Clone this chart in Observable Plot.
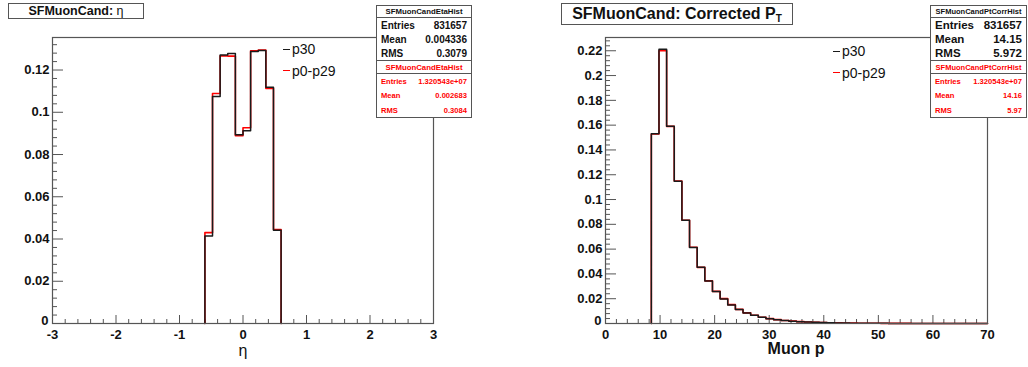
<!DOCTYPE html>
<html>
<head>
<meta charset="utf-8">
<script src="https://cdn.jsdelivr.net/npm/d3@7"></script>
<script src="https://cdn.jsdelivr.net/npm/@observablehq/plot@0.6"></script>
<style>
  html, body { margin: 0; padding: 0; background: #fff; }
  #root { position: relative; width: 1028px; height: 367px; overflow: hidden; font-family: "Liberation Sans", Arial, Helvetica, sans-serif; }
  .panel { position: absolute; top: 0; width: 514px; height: 367px; }
  .box { position: absolute; background: #fff; border: 1px solid #555; box-sizing: border-box; }
  .title { text-align: center; font-weight: bold; color: #111; white-space: nowrap; }
  .row { position: absolute; left: 0; right: 0; display: flex; justify-content: space-between; align-items: center; padding: 0 4px; box-sizing: border-box; font-weight: bold; white-space: nowrap; }
  .hdr { position: absolute; left: 0; right: 0; text-align: center; font-weight: bold; white-space: nowrap; }
  .sep { position: absolute; left: 0; right: 0; height: 0; border-top: 1px solid #555; }
  .leg { position: absolute; font-size: 14px; color: #111; white-space: nowrap; }
  .leg .dash { display: inline-block; width: 7px; height: 0; border-top: 1.5px solid; vertical-align: middle; margin-right: 2px; position: relative; top: -1px; }
  .axt { position: absolute; color: #111; white-space: nowrap; transform: translateX(-50%); }
</style>
</head>
<body>
<div id="root"></div>
<script>
// ---------------- data ----------------
const etaEdges = [-0.6, -0.48, -0.36, -0.24, -0.12, 0, 0.12, 0.24, 0.36, 0.48, 0.6];
const etaP30   = [0.0414, 0.1075, 0.1271, 0.1278, 0.0894, 0.0912, 0.1288, 0.1292, 0.1118, 0.0441];
const etaP0P29 = [0.0430, 0.1089, 0.1267, 0.1266, 0.0889, 0.0927, 0.1291, 0.1294, 0.1113, 0.0445];

const ptEdges = [8.4, 9.8, 11.2, 12.6, 14, 15.4, 16.8, 18.2, 19.6, 21, 22.4, 23.8, 25.2, 26.6, 28, 29.4,
  30.8, 32.2, 33.6, 35, 36.4, 37.8, 39.2, 40.6, 42, 43.4, 44.8, 46.2, 47.6, 49, 50.4, 51.8, 53.2, 54.6,
  56, 57.4, 58.8, 60.2, 61.6, 63, 64.4, 65.8, 67.2, 68.6, 70];
const ptP30 = [0.1530, 0.2212, 0.1591, 0.1148, 0.0832, 0.0614, 0.0453, 0.0343, 0.0258, 0.0198, 0.0150,
  0.0113, 0.0085, 0.0067, 0.0050, 0.0039, 0.0031, 0.0024, 0.0019, 0.0015, 0.0012, 0.0010, 0.0008,
  0.0006, 0.0005, 0.0004, 0.0003, 0.00025, 0.0002, 0.00016, 0.00013, 0.0001, 0.00008, 0.00007,
  0.00006, 0.00005, 0.00004, 0.00003, 0.00003, 0.00002, 0.00002, 0.00002, 0.00001, 0.00001];
const ptP0P29 = [0.1528, 0.2200, 0.1590, 0.1149, 0.0833, 0.0615, 0.0453, 0.0344, 0.0259, 0.0201, 0.0152,
  0.0114, 0.0086, 0.0067, 0.0050, 0.0039, 0.0031, 0.0024, 0.0019, 0.0015, 0.0012, 0.0010, 0.0008,
  0.0006, 0.0005, 0.0004, 0.0003, 0.00025, 0.0002, 0.00016, 0.00013, 0.0001, 0.00008, 0.00007,
  0.00006, 0.00005, 0.00004, 0.00003, 0.00003, 0.00002, 0.00002, 0.00002, 0.00001, 0.00001];

const etaXTicks = [-3, -2, -1, 0, 1, 2, 3];
const etaYTicks = [0, 0.02, 0.04, 0.06, 0.08, 0.1, 0.12];
const ptXTicks = [0, 10, 20, 30, 40, 50, 60, 70];
const ptYTicks = [0, 0.02, 0.04, 0.06, 0.08, 0.1, 0.12, 0.14, 0.16, 0.18, 0.2, 0.22];

const seriesNames = ["p30", "p0-p29"];
const seriesColors = ["#1a1a1a", "#ff0000"];

const etaStats = { name: "SFMuonCandEtaHist", rows: [["Entries", "831657"], ["Mean", "0.004336"], ["RMS", "0.3079"]],
  red: [["Entries", "1.320543e+07"], ["Mean", "0.002683"], ["RMS", "0.3084"]] };
const ptStats = { name: "SFMuonCandPtCorrHist", rows: [["Entries", "831657"], ["Mean", "14.15"], ["RMS", "5.972"]],
  red: [["Entries", "1.320543e+07"], ["Mean", "14.16"], ["RMS", "5.97"]] };

// ---------------- helpers ----------------
function histPoints(edges, vals) {
  const pts = [{x: edges[0], y: 0}];
  vals.forEach((v, i) => pts.push({x: edges[i], y: v}));
  pts.push({x: edges[edges.length - 1], y: vals[vals.length - 1]});
  pts.push({x: edges[edges.length - 1], y: 0});
  return pts;
}
const fmt = d => String(+d.toFixed(3));

function makePanel(cfg) {
  const W = 514, H = 367;
  const fh = H - cfg.mt - cfg.mb, fw = W - cfg.ml - cfg.mr;
  const [x0, x1] = cfg.xDomain;
  const xMinor = d3.range(x0, x1 + 1e-9, cfg.xMinorStep).filter(v => !cfg.xTicks.some(t => Math.abs(t - v) < 1e-9));
  const yMinor = d3.range(0, cfg.yDomain[1], cfg.yMinorStep).filter(v => !cfg.yTicks.some(t => Math.abs(t - v) < 1e-9));
  return Plot.plot({
    width: W, height: H,
    marginLeft: cfg.ml, marginRight: cfg.mr, marginTop: cfg.mt, marginBottom: cfg.mb,
    x: {domain: cfg.xDomain},
    y: {domain: cfg.yDomain},
    style: {fontFamily: "Liberation Sans, Arial, sans-serif", fontSize: "13px", fontWeight: "bold", color: "#111", background: "transparent", overflow: "visible"},
    marks: [
      Plot.tickX(xMinor, {x: d => d, stroke: "#555", insetTop: fh - 4}),
      Plot.tickX(cfg.xTicks, {x: d => d, stroke: "#555", insetTop: fh - 8}),
      Plot.tickY(yMinor, {y: d => d, stroke: "#555", insetRight: fw - 5}),
      Plot.tickY(cfg.yTicks, {y: d => d, stroke: "#555", insetRight: fw - 11}),
      Plot.line(histPoints(cfg.edges, cfg.red), {x: "x", y: "y", curve: "step-after", stroke: seriesColors[1], strokeWidth: 1.6}),
      Plot.line(histPoints(cfg.edges, cfg.black), {x: "x", y: "y", curve: "step-after", stroke: seriesColors[0], strokeWidth: 1.5}),
      Plot.frame({stroke: "#555", strokeWidth: 1.2}),
      Plot.axisX(cfg.xTicks, {tickSize: 0, tickPadding: 6, tickFormat: d => String(d), label: null, fill: "#111"}),
      Plot.axisY(cfg.yTicks.filter(d => d !== 0), {tickSize: 0, tickPadding: 3, tickFormat: fmt, label: null, fill: "#111"}),
      Plot.axisY([0], {tickSize: 0, tickPadding: 4, dy: -3, tickFormat: fmt, label: null, fill: "#111"})
    ]
  });
}

function statsBox(parent, s, left, width, bigFont, hdrFont, redFont) {
  const b = document.createElement("div");
  b.className = "box";
  Object.assign(b.style, {left: left + "px", top: "5px", width: width + "px", height: "113px"});
  let html = `<div class="hdr" style="top:0;height:11px;line-height:11px;font-size:${hdrFont}px;color:#111">${s.name}</div>`;
  html += `<div class="sep" style="top:11px"></div>`;
  s.rows.forEach((r, i) => {
    html += `<div class="row" style="top:${12 + i * 14}px;height:14px;font-size:${bigFont}px;color:#111"><span>${r[0]}</span><span>${r[1]}</span></div>`;
  });
  html += `<div class="sep" style="top:54px"></div>`;
  html += `<div class="hdr" style="top:55px;height:13px;line-height:13px;font-size:${hdrFont}px;color:#f00">${s.name}</div>`;
  html += `<div class="sep" style="top:67px"></div>`;
  s.red.forEach((r, i) => {
    html += `<div class="row" style="top:${68 + i * 14.6}px;height:14.6px;font-size:${redFont}px;color:#f00"><span>${r[0]}</span><span>${r[1]}</span></div>`;
  });
  b.innerHTML = html;
  parent.appendChild(b);
}

function legend(parent, left, top) {
  seriesNames.forEach((n, i) => {
    const d = document.createElement("div");
    d.className = "leg";
    Object.assign(d.style, {left: left + "px", top: (top + i * 21.5) + "px"});
    d.innerHTML = `<span class="dash" style="border-color:${seriesColors[i]}"></span>${n}`;
    parent.appendChild(d);
  });
}

// ---------------- build ----------------
const root = document.getElementById("root");

const left = document.createElement("div");
left.className = "panel"; left.style.left = "0px";
left.appendChild(makePanel({ml: 52, mr: 81, mt: 37, mb: 44, xDomain: [-3, 3], yDomain: [0, 0.1354],
  xTicks: etaXTicks, yTicks: etaYTicks, xMinorStep: 0.2, yMinorStep: 0.004,
  edges: etaEdges, black: etaP30, red: etaP0P29}));
root.appendChild(left);

const right = document.createElement("div");
right.className = "panel"; right.style.left = "514px";
right.appendChild(makePanel({ml: 91, mr: 41, mt: 37, mb: 44, xDomain: [0, 70], yDomain: [0, 0.2307],
  xTicks: ptXTicks, yTicks: ptYTicks, xMinorStep: 2, yMinorStep: 0.004,
  edges: ptEdges, black: ptP30, red: ptP0P29}));
root.appendChild(right);

// titles
const t1 = document.createElement("div");
t1.className = "box title";
Object.assign(t1.style, {left: "8px", top: "3px", width: "136px", height: "16px", lineHeight: "14px", fontSize: "12.5px"});
t1.innerHTML = `SFMuonCand:<span style="font-weight:normal"> η</span>`;
root.appendChild(t1);

const t2 = document.createElement("div");
t2.className = "box title";
Object.assign(t2.style, {left: "561px", top: "3px", width: "232px", height: "22px", lineHeight: "20px", fontSize: "16px"});
t2.innerHTML = `SFMuonCand: Corrected P<sub style="font-size:10px;vertical-align:-3px">T</sub>`;
root.appendChild(t2);

// stats boxes
statsBox(root, etaStats, 376, 96, 10, 7.8, 7.6);
statsBox(root, ptStats, 930, 97, 11.5, 7.5, 7.6);

// legends
legend(root, 283, 41);
legend(root, 833, 43);

// axis titles
const a1 = document.createElement("div");
a1.className = "axt";
Object.assign(a1.style, {left: "243px", top: "342px", fontSize: "16px"});
a1.textContent = "η";
root.appendChild(a1);

const a2 = document.createElement("div");
a2.className = "axt";
Object.assign(a2.style, {left: "796px", top: "340px", fontSize: "16px", fontWeight: "bold"});
a2.textContent = "Muon p";
root.appendChild(a2);
</script>
</body>
</html>
